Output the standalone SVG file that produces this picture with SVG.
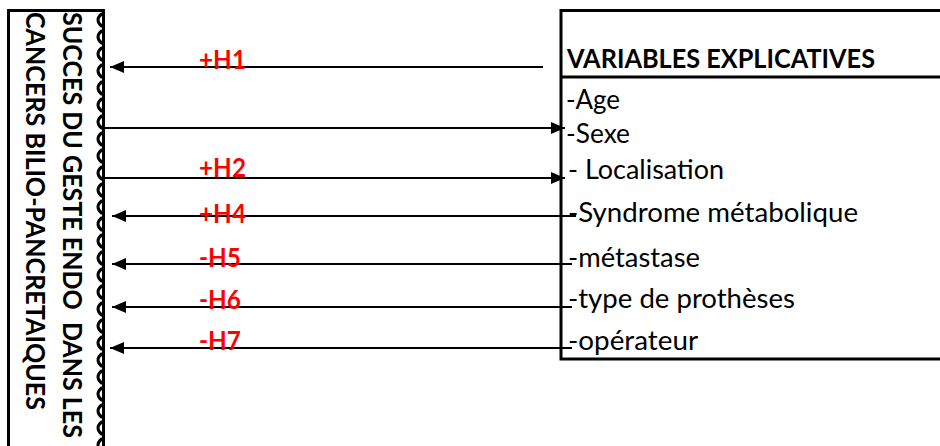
<svg xmlns="http://www.w3.org/2000/svg" width="940" height="446" viewBox="0 0 940 446">
  <style>
    .frame { fill: none; stroke: #000; stroke-width: 3; }
    .wave { fill: none; stroke: #000; stroke-width: 3; stroke-linecap: round; }
    .link { fill: none; stroke: #000; stroke-width: 2; }
    .txt { font-family: Lato, "Liberation Sans", sans-serif; font-size: 27px; fill: #000; }
    .bold { font-weight: bold; }
    .hyp { font-family: Lato, "Liberation Sans", sans-serif; font-size: 27px; font-weight: bold; fill: #ff0000; }
  </style>
  <defs>
    <marker id="arrow" markerUnits="userSpaceOnUse" markerWidth="14" markerHeight="12" refX="14" refY="6" orient="auto">
      <path d="M0,0 L14,6 L0,12 Z" fill="#000"/>
    </marker>
  </defs>
  <rect width="940" height="446" fill="#fff"/>

  <!-- outcome box (vertical, left) -->
  <g id="outcome">
    <path class="frame" d="M8.5,446 V10.5 H103.5 V446"/>
    <!-- scalloped inner border along the right edge -->
    <path class="wave" d="M101.5,14 q-7,6 0,12 m0,5 q-7,6 0,12 m0,5 q-7,6 0,12 m0,5 q-7,6 0,12 m0,5 q-7,6 0,12 m0,5 q-7,6 0,12 m0,5 q-7,6 0,12 m0,5 q-7,6 0,12 m0,5 q-7,6 0,12 m0,5 q-7,6 0,12 m0,5 q-7,6 0,12 m0,5 q-7,6 0,12 m0,5 q-7,6 0,12 m0,5 q-7,6 0,12 m0,5 q-7,6 0,12 m0,5 q-7,6 0,12 m0,5 q-7,6 0,12 m0,5 q-7,6 0,12 m0,5 q-7,6 0,12 m0,5 q-7,6 0,12 m0,5 q-7,6 0,12 m0,5 q-7,6 0,12 m0,5 q-7,6 0,12 m0,5 q-7,6 0,12 m0,5 q-7,6 0,12 m0,5 q-7,6 0,12"/>
    <text class="txt bold" transform="translate(63,12) rotate(90)" textLength="426" lengthAdjust="spacingAndGlyphs" xml:space="preserve">SUCCES DU GESTE ENDO  DANS LES</text>
    <text class="txt bold" transform="translate(26,12) rotate(90)" textLength="398" lengthAdjust="spacingAndGlyphs">CANCERS BILIO-PANCRETAIQUES</text>
  </g>

  <!-- explanatory variables box (right) -->
  <g id="variables">
    <path class="frame" d="M942,10.5 H561 V359 H942"/>
    <line class="frame" x1="561" y1="77" x2="942" y2="77"/>
    <text class="txt bold" x="567" y="68" textLength="308" lengthAdjust="spacingAndGlyphs">VARIABLES EXPLICATIVES</text>
    <text class="txt" x="566" y="109" textLength="54" lengthAdjust="spacingAndGlyphs">-Age</text>
    <text class="txt" x="566" y="143" textLength="64" lengthAdjust="spacingAndGlyphs">-Sexe</text>
    <text class="txt" x="568" y="179" textLength="156" lengthAdjust="spacingAndGlyphs" xml:space="preserve">- Localisation</text>
    <text class="txt" x="568" y="222" textLength="290" lengthAdjust="spacingAndGlyphs">-Syndrome métabolique</text>
    <text class="txt" x="568" y="267" textLength="132" lengthAdjust="spacingAndGlyphs">-métastase</text>
    <text class="txt" x="568" y="308" textLength="227" lengthAdjust="spacingAndGlyphs">-type de prothèses</text>
    <text class="txt" x="568" y="350" textLength="130" lengthAdjust="spacingAndGlyphs">-opérateur</text>
  </g>

  <!-- connectors -->
  <g id="connectors">
    <line class="link" x1="543" y1="67" x2="110" y2="67" marker-end="url(#arrow)"/>
    <line class="link" x1="104" y1="128" x2="565" y2="128" marker-end="url(#arrow)"/>
    <line class="link" x1="104" y1="178" x2="565" y2="178" marker-end="url(#arrow)"/>
    <line class="link" x1="576" y1="216" x2="112" y2="216" marker-end="url(#arrow)"/>
    <line class="link" x1="572" y1="264" x2="112" y2="264" marker-end="url(#arrow)"/>
    <line class="link" x1="572" y1="307" x2="112" y2="307" marker-end="url(#arrow)"/>
    <line class="link" x1="572" y1="348" x2="110" y2="348" marker-end="url(#arrow)"/>
    <text class="hyp" x="199" y="69" textLength="47" lengthAdjust="spacingAndGlyphs">+H1</text>
    <text class="hyp" x="199" y="177" textLength="47" lengthAdjust="spacingAndGlyphs">+H2</text>
    <text class="hyp" x="199" y="223" textLength="47" lengthAdjust="spacingAndGlyphs">+H4</text>
    <text class="hyp" x="199" y="267" textLength="42" lengthAdjust="spacingAndGlyphs">-H5</text>
    <text class="hyp" x="199" y="309" textLength="42" lengthAdjust="spacingAndGlyphs">-H6</text>
    <text class="hyp" x="199" y="350" textLength="42" lengthAdjust="spacingAndGlyphs">-H7</text>
  </g>
</svg>
